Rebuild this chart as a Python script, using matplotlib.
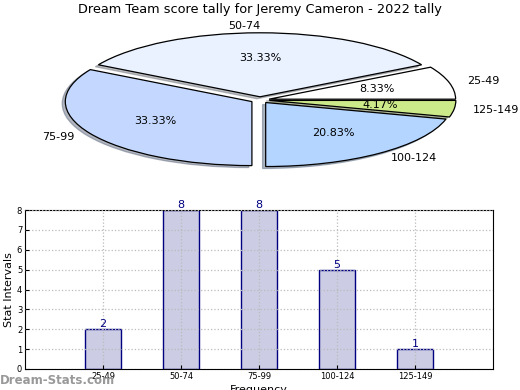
import matplotlib
matplotlib.use("Agg")
import matplotlib.pyplot as plt
import numpy as np

# data
categories = ["25-49", "50-74", "75-99", "100-124", "125-149"]
counts = [2, 8, 8, 5, 1]
pie_colors = ["#ffffff", "#eaf2ff", "#c4d8ff", "#b4d5ff", "#cdea8a"]
title = "Dream Team score tally for Jeremy Cameron - 2022 tally"

W, H = 520, 390
fig = plt.figure(figsize=(W / 100, H / 100), dpi=100)

# ---- pie (squashed, old-style) ----
ux, uy = 186.6, 64.0          # pixels per data unit
cx, cy = 260, 100             # centre in pixels (from top)
span = 1.3
ax1 = fig.add_axes([(cx - span * ux) / W, (H - cy - span * uy) / H,
                    2 * span * ux / W, 2 * span * uy / H])
ax1.pie(counts, labels=categories, colors=pie_colors, explode=[0.05] * 5,
        autopct="%.2f%%", shadow={"ox": -0.012, "oy": -0.022, "shade": 0.5},
        startangle=0, counterclock=True,
        wedgeprops=dict(edgecolor="black", linewidth=0.9),
        textprops=dict(fontsize=8))
ax1.set_aspect("auto")
ax1.set_xlim(-span, span)
ax1.set_ylim(-span, span)
ax1.axis("off")
fig.text(0.5, 1 - 10 / H, title, ha="center", va="center", fontsize=9.3)

# ---- bars ----
ax2 = fig.add_axes([25 / W, (H - 369) / H, (493 - 25) / W, (369 - 210) / H])
x = np.arange(len(categories))
ax2.bar(x, counts, width=0.46, color="#ccccE4", edgecolor="#000080", linewidth=1)
for xi, c in zip(x, counts):
    ax2.text(xi, c, str(c), ha="center", va="bottom", color="#000080", fontsize=8)
ax2.set_xlim(-1, 5)
ax2.set_ylim(0, 8)
ax2.set_xticks(x)
ax2.set_xticklabels(categories)
ax2.set_yticks(range(9))
ax2.tick_params(direction="in", labelsize=6, length=3, pad=2)
ax2.grid(True, linestyle=":", color="#bbbbbb", linewidth=0.9)
ax2.set_axisbelow(False)
ax2.set_ylabel("Stat Intervals", fontsize=8, labelpad=2)
ax2.set_xlabel("Frequency", fontsize=8, labelpad=3)

fig.text(0, 9 / H, "Dream-Stats.com", ha="left", va="center",
         fontsize=8.5, color="#999999", fontweight="bold")

fig.savefig("out.png", dpi=100)
